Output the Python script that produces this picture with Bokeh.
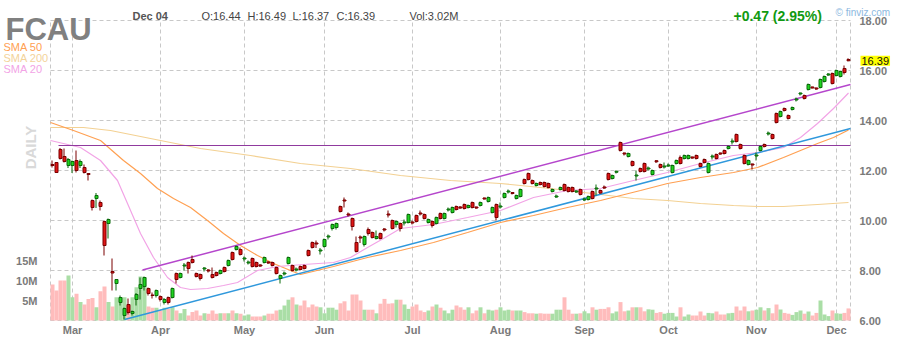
from math import pi
from bokeh.plotting import figure
from bokeh.models import Range1d, LinearAxis, FixedTicker, Label, ColumnDataSource
from bokeh.transform import dodge
from bokeh.embed import file_html
from bokeh.resources import INLINE

# ---------------- data ----------------
# trading-day index 0 = Feb 24 2020 ... 199 = Dec 04 2020
opens = [12.24,12.32,12.84,12.56,12.20, 12.20,12.40,12.20,12.12,11.88,10.80,10.88,10.72,9.96,9.88,7.96,7.48,6.72,6.20,6.64,6.28,6.84,7.28,7.36,7.28,7.02,7.00,
         6.96,6.72,6.92,6.92,7.88,7.72,8.18,8.32,8.44,7.88,7.84,8.06,8.02,7.84,7.92,7.88,8.12,8.20,8.72,8.84,8.84,
         8.46,8.30,8.48,8.32,8.22,8.32,8.34,8.32,8.12,7.68,7.86,8.28,8.20,8.02,8.16,8.20,8.80,9.12,9.10,8.78,
         8.96,9.34,9.68,9.72,10.56,10.82,10.26,10.08,9.12,9.34,9.04,9.64,9.52,9.28,9.48,9.66,10.26,10.00,9.84,9.88,9.90,9.92,
         9.94,10.20,10.30,10.24,9.92,9.96,9.88,10.28,10.08,10.42,10.32,10.56,10.54,10.64,10.52,10.72,10.54,10.60,10.90,10.76,10.32,10.64,
         10.54,10.92,11.14,11.12,10.88,10.96,11.64,11.88,11.60,11.40,11.52,11.52,11.48,11.16,10.94,11.24,11.44,11.32,11.32,11.14,11.24,
         10.82,10.84,11.16,11.26,11.20,11.34,11.88,11.68,11.93,13.12,12.70,12.56,12.36,11.78,12.08,12.28,12.06,11.84,12.39,12.24,12.14,
         12.18,11.92,12.28,12.52,12.48,12.48,12.54,12.60,12.28,12.44,11.92,12.54,12.64,12.70,12.80,12.88,13.14,13.44,13.04,12.60,12.24,12.26,
         12.58,12.80,13.04,13.46,13.44,14.28,14.16,14.48,14.20,14.44,14.82,15.06,15.00,15.24,15.34,15.30,15.32,15.56,15.82,15.88,
         15.80,15.76,16.08,16.44]
highs = [12.40,12.34,12.90,12.88,12.50, 12.40,12.80,12.44,12.24,11.90,10.84,11.10,10.80,10.00,10.08,8.48,7.66,7.00,6.52,6.88,6.40,7.10,7.72,7.76,7.32,7.12,7.24,
         7.00,6.90,6.96,7.32,7.92,7.92,8.30,8.36,8.60,7.92,7.88,8.14,8.06,8.12,7.96,8.04,8.16,8.44,8.76,9.00,8.92,
         8.56,8.40,8.52,8.36,8.26,8.56,8.38,8.36,8.16,7.84,7.96,8.56,8.24,8.12,8.20,8.24,8.84,9.16,9.20,8.90,
         9.28,9.44,9.88,9.92,10.60,10.92,10.32,10.12,9.36,9.40,9.40,9.72,9.56,9.60,9.52,9.70,10.40,10.04,10.00,9.92,10.04,10.28,
         10.00,10.24,10.40,10.28,10.08,10.00,10.16,10.32,10.32,10.52,10.56,10.60,10.58,10.68,10.64,10.76,10.56,10.76,10.92,10.96,10.56,10.68,
         10.72,11.12,11.24,11.14,11.04,11.28,11.68,11.92,11.64,11.52,11.56,11.56,11.52,11.28,11.04,11.36,11.48,11.36,11.36,11.22,11.28,
         10.92,11.00,11.20,11.44,11.24,11.40,11.92,11.84,12.00,13.16,12.72,12.72,12.40,12.00,12.12,12.32,12.16,12.04,12.42,12.28,12.32,
         12.28,12.24,12.44,12.60,12.64,12.64,12.56,12.64,12.32,12.48,12.32,12.64,12.68,12.72,12.84,13.00,13.28,13.48,13.08,12.64,12.44,12.28,
         12.72,13.00,13.08,13.56,13.48,14.32,14.40,14.52,14.24,14.56,14.92,15.12,15.04,15.48,15.36,15.32,15.68,15.80,15.90,15.92,
         16.04,16.00,16.20,16.49]
lows = [12.12,11.90,12.44,12.32,12.10, 11.90,11.92,12.10,11.88,11.60,10.40,10.50,10.40,8.60,9.28,7.20,7.20,6.60,6.04,6.24,6.20,6.60,6.84,7.20,7.00,6.88,6.92,
        6.76,6.64,6.64,6.88,7.48,7.68,8.00,7.88,8.28,7.72,7.60,7.96,7.92,7.68,7.76,7.84,7.92,8.16,8.40,8.80,8.60,
        8.36,8.24,8.12,8.12,8.14,8.28,8.26,8.16,7.84,7.48,7.80,8.24,7.96,7.96,8.00,8.04,8.56,8.88,8.90,8.64,
        8.92,9.24,9.60,9.64,10.32,10.52,10.16,9.60,8.72,9.10,8.96,9.40,9.28,9.24,9.24,9.56,10.12,9.64,9.72,9.56,9.80,9.88,
        9.84,9.92,10.20,10.04,9.88,9.72,9.84,10.04,10.04,10.36,10.28,10.40,10.46,10.44,10.48,10.48,10.46,10.56,10.84,10.72,10.28,10.00,
        10.48,10.88,11.08,11.04,10.84,10.92,11.44,11.60,11.44,11.36,11.40,11.32,11.28,11.12,10.90,11.20,11.16,11.12,11.12,11.10,11.00,
        10.78,10.80,10.84,11.00,11.06,11.26,11.60,11.64,11.88,12.76,12.60,12.52,12.16,11.60,11.92,11.92,12.00,11.80,12.30,12.08,12.08,
        12.14,11.88,12.24,12.24,12.44,12.44,12.46,12.44,12.12,12.28,11.88,12.44,12.44,12.62,12.64,12.84,13.04,13.12,12.84,12.24,12.20,12.04,
        12.40,12.76,12.92,13.40,13.24,13.88,14.12,14.36,14.04,14.40,14.76,15.00,14.84,15.20,15.28,15.22,15.28,15.52,15.78,15.44,
        15.76,15.72,15.84,16.37]
closes = [12.20,11.92,12.48,12.36,12.44, 12.36,12.00,12.36,11.92,11.84,10.52,11.00,10.56,9.00,10.04,7.90,7.64,6.92,6.48,6.32,6.36,7.04,7.44,7.72,7.08,7.00,7.20,
          6.84,6.84,6.72,7.28,7.64,7.88,8.22,8.08,8.32,7.76,7.68,8.10,7.98,7.72,7.80,8.00,7.96,8.40,8.44,8.96,8.64,
          8.50,8.34,8.16,8.16,8.18,8.52,8.30,8.20,7.88,7.80,7.90,8.52,8.00,8.06,8.04,8.08,8.60,8.92,9.06,8.82,
          9.24,9.38,9.84,9.88,10.36,10.78,10.22,9.76,8.76,9.30,9.36,9.48,9.32,9.36,9.28,9.62,10.22,9.68,9.96,9.68,9.94,10.24,
          9.90,9.96,10.26,10.08,10.04,9.80,10.12,10.08,10.28,10.46,10.52,10.44,10.50,10.48,10.60,10.52,10.50,10.72,10.86,10.92,10.52,10.12,
          10.58,11.08,11.18,11.08,11.00,11.24,11.48,11.64,11.48,11.48,11.44,11.36,11.32,11.24,10.98,11.32,11.20,11.16,11.16,11.18,11.04,
          10.86,10.96,10.88,11.30,11.10,11.30,11.64,11.80,11.97,12.80,12.66,12.68,12.20,11.82,11.96,11.96,12.10,12.00,12.35,12.12,12.18,
          12.22,12.20,12.40,12.28,12.60,12.60,12.50,12.48,12.16,12.32,12.28,12.58,12.48,12.66,12.68,12.96,13.18,13.16,12.88,12.28,12.40,12.22,
          12.62,12.96,12.96,13.50,13.28,13.92,14.36,14.40,14.08,14.52,14.86,15.10,14.88,15.44,15.30,15.26,15.64,15.76,15.86,15.48,
          16.00,15.96,15.92,16.39]
volumes_m = [9.0,7.5,10.0,10.0,11.25, 5.8,6.7,4.6,4.0,5.4,5.6,3.3,7.3,8.5,4.6,3.5,5.8,5.8,5.8,3.75,5.8,8.3,11.0,10.8,3.5,3.2,3.2,
             2.5,3.2,2.9,3.3,2.5,1.8,2.9,1.25,2.1,2.5,1.25,1.8,1.7,2.5,1.7,1.8,1.8,1.8,2.5,1.8,1.7,
             1.25,1.5,1.0,1.0,1.0,1.25,1.7,1.7,2.5,2.7,3.75,5.2,5.8,4.0,3.75,5.0,3.3,4.0,3.5,3.3,
             1.8,3.2,3.2,2.7,4.3,4.8,2.5,6.5,6.5,5.0,2.7,2.7,2.7,1.8,4.2,5.4,4.2,4.3,5.2,5.2,4.0,2.9,
             3.5,4.0,2.5,2.1,2.5,3.5,4.0,3.2,2.5,1.8,2.7,3.75,3.3,2.7,3.3,1.8,2.5,3.3,1.8,2.7,2.5,2.7,
             3.3,2.5,2.7,2.5,2.5,2.5,2.1,1.8,1.8,1.7,1.8,1.7,1.7,1.7,2.7,2.7,5.8,2.7,1.7,1.7,1.8,
             2.3,1.8,3.3,2.7,2.9,2.9,3.3,1.8,2.25,4.6,2.3,2.5,3.3,3.3,3.3,2.3,2.8,2.7,1.9,2.1,1.7,
             1.9,1.9,1.0,3.3,1.0,1.5,1.25,1.25,2.25,1.25,1.9,1.8,2.25,1.5,1.5,1.8,1.9,3.5,2.5,3.5,2.3,2.5,
             2.7,3.3,2.5,3.1,1.8,4.0,2.75,1.9,1.7,1.4,2.1,2.5,1.7,2.25,1.25,1.9,5.0,1.5,1.1,2.5,
             1.8,1.7,1.9,3.02]

# moving averages, read at sample points (index, price)
sma20_idx = [-0.5,7,12,16.25,18.75,22,25.25,28.75,32,34.5,38.75,42.75,46.25,51.25,56.25,62.75,70.25,74.5,78.75,82.75,87,95.25,103.75,112,120.25,128.75,137,145.25,153.75,162,170.25,176.25,182.75,187,191.25,195.25,199]
sma20_val = [13.2,12.92,12.4,11.6,10.68,9.48,8.52,7.72,7.32,7.24,7.28,7.4,7.52,8.0,8.16,8.24,8.32,8.52,8.92,9.28,9.68,9.84,10.12,10.4,10.92,11.2,11.28,11.6,11.92,12.28,12.6,12.72,12.92,13.32,13.88,14.48,15.1]
sma50_idx = [-0.5,5.25,12,17.75,22,26.25,30.25,34.5,38.75,42.75,47,51.25,55.25,59.5,62,70.25,78.75,87,95.25,103.75,112,120.25,128.75,137,147,153.75,162,170.25,176.25,182.75,191.25,195.25,199]
sma50_val = [13.92,13.6,13.2,12.4,11.88,11.28,10.88,10.52,10.0,9.48,9.0,8.6,8.28,8.0,7.84,8.16,8.52,8.8,9.12,9.52,9.92,10.2,10.52,10.8,11.2,11.48,11.72,11.92,12.12,12.52,13.08,13.32,13.62]
sma200_idx = [-0.5,7.75,14.5,27,37,49.5,62,74.5,87,99.5,112,124.5,137,145.25,153.75,162,170.25,176.25,182.75,191.25,199]
sma200_val = [13.72,13.72,13.6,13.2,12.88,12.6,12.28,12.08,11.8,11.6,11.48,11.28,11.04,10.88,10.8,10.68,10.6,10.56,10.56,10.64,10.72]

# drawn trend lines (start/end index, price)
upper_idx = [22.5, 199.5]
upper_val = [8.02, 15.44]
lower_idx = [18.0, 199.5]
lower_val = [6.04, 13.68]
hline_idx = [1.5, 199.5]
hline_val = [13.0, 13.0]

month_idx = [5, 27, 48, 68, 90, 112, 133, 154, 176, 196]
month_labels = ["Mar", "Apr", "May", "Jun", "Jul", "Aug", "Sep", "Oct", "Nov", "Dec"]
price_ticks = [6, 8, 10, 12, 14, 16, 18]
price_labels = ["6.00", "8.00", "10.00", "12.00", "14.00", "16.00", "18.00"]
vol_ticks = [5, 10, 15]
vol_labels = ["5M", "10M", "15M"]
last_price = 16.39

# ---------------- layout / styling ----------------
FONT = "Liberation Sans"
UP_FILL, UP_LINE = "#1fd41f", "#0a6a0a"
DN_FILL, DN_LINE = "#e01414", "#7a0000"
VOL_UP, VOL_DN = "#aadea6", "#ffbcbc"
GRID = "#c8c8c8"

W, H = 900, 340
FL, FR, FT, FB = 50, 850, 20, 320          # chart box in canvas pixels
IX0, IX1 = -0.5, 199.5                      # index span of the chart box
PY0, PY1 = 6.0, 18.0                        # price span of the chart box
VPX = 4.0                                   # volume: pixels per million
xs = (FR - FL) / (IX1 - IX0)
ys = (FB - FT) / (PY1 - PY0)
x_range = Range1d(IX0 - FL / xs, IX1 + (W - FR) / xs)
y_range = Range1d(PY0 - (H - FB) / ys, PY1 + FT / ys)

p = figure(width=W, height=H, output_backend="svg", toolbar_location=None, title=None,
           x_range=x_range, y_range=y_range, y_axis_location="right", min_border=0)
p.min_border_left = p.min_border_right = p.min_border_top = p.min_border_bottom = 0
p.extra_y_ranges = {"vol": Range1d(-(H - FB) / VPX, FB / VPX)}
p.background_fill_color = "white"
p.border_fill_color = "white"
p.outline_line_color = None
p.xgrid.visible = False
p.ygrid.visible = False


def px_to_data(xp, yp):
    return x_range.start + xp / xs, y_range.end - yp / ys


# axes drawn at the chart box edges
xa = p.xaxis[0]
xa.ticker = FixedTicker(ticks=month_idx)
xa.major_label_overrides = {m: lab for m, lab in zip(month_idx, month_labels)}
xa.fixed_location = PY0
ya = p.yaxis[0]
ya.ticker = FixedTicker(ticks=price_ticks)
ya.major_label_overrides = {t: lab for t, lab in zip(price_ticks, price_labels)}
ya.fixed_location = IX1
va = LinearAxis(y_range_name="vol", ticker=FixedTicker(ticks=vol_ticks),
                major_label_overrides={t: lab for t, lab in zip(vol_ticks, vol_labels)},
                fixed_location=IX0)
p.add_layout(va, "left")
for ax, so in ((xa, 3), (ya, 9), (va, 13)):
    ax.axis_line_color = None
    ax.major_tick_line_color = None
    ax.minor_tick_line_color = None
    ax.major_tick_out = 0
    ax.major_tick_in = 0
    ax.major_label_standoff = so
    ax.major_label_text_font = FONT
    ax.major_label_text_font_size = "11px"
    ax.major_label_text_font_style = "bold"
    ax.major_label_text_color = "#7a7a7a"

# dashed grid and box
gx = [m for m in month_idx]
p.segment(x0=gx, y0=[PY0] * len(gx), x1=gx, y1=[PY1] * len(gx),
          line_color=GRID, line_dash="4 3", line_width=1)
gy = [t for t in price_ticks]
p.segment(x0=[IX0] * len(gy), y0=gy, x1=[IX1] * len(gy), y1=gy,
          line_color=GRID, line_dash="4 3", line_width=1)
p.segment(x0=[IX0, IX1], y0=[PY0, PY0], x1=[IX0, IX1], y1=[PY1, PY1],
          line_color=GRID, line_dash="4 3", line_width=1)

# volume
n = len(closes)
idx = list(range(n))
up = [c >= o for o, c in zip(opens, closes)]
vsrc = ColumnDataSource(dict(x=idx, v=volumes_m, c=[VOL_UP if u else VOL_DN for u in up]))
p.vbar(x="x", top="v", bottom=0, width=1.0, fill_color="c", line_color=None, source=vsrc, y_range_name="vol")

# moving averages
p.line(sma200_idx, sma200_val, line_color="#f3d193", line_width=1.2)
p.line(sma50_idx, sma50_val, line_color="#ffa052", line_width=1.2)
p.line(sma20_idx, sma20_val, line_color="#f2a4e6", line_width=1.2)

# drawn lines
p.line(hline_idx, hline_val, line_color="#903a9e", line_width=1.2)
p.line(upper_idx, upper_val, line_color="#b546cc", line_width=1.5)
p.line(lower_idx, lower_val, line_color="#2f98dc", line_width=1.5)

# candles
csrc = ColumnDataSource(dict(
    x=idx, high=highs, low=lows,
    top=[max(o, c) for o, c in zip(opens, closes)],
    bottom=[min(o, c) for o, c in zip(opens, closes)],
    fill=[UP_FILL if u else DN_FILL for u in up],
    line=[UP_LINE if u else DN_LINE for u in up]))
wx = dodge("x", -0.125, range=p.x_range)
p.segment(x0=wx, y0="high", x1=wx, y1="low", line_color="line", line_width=1, source=csrc)
p.vbar(x="x", top="top", bottom="bottom", width=0.75, fill_color="fill", line_color="line",
       line_width=1, source=csrc)


def add_text(text, xp, yp, size, color, style="normal", align="left", baseline="alphabetic", angle=0, **kw):
    x, y = px_to_data(xp, yp)
    p.add_layout(Label(x=x, y=y, text=text, text_font=FONT, text_font_size=size,
                       text_color=color, text_font_style=style, text_align=align,
                       text_baseline=baseline, angle=angle, **kw))


add_text("FCAU", 5, 28.5, "31px", "#808080", "bold")
add_text("Dec 04", 132, 15, "11px", "#555555", "bold")
add_text("O:16.44", 201, 15, "11px", "#444444")
add_text("H:16.49", 247, 15, "11px", "#444444")
add_text("L:16.37", 292, 15, "11px", "#444444")
add_text("C:16.39", 336, 15, "11px", "#444444")
add_text("Vol:3.02M", 409, 15, "11px", "#444444")
add_text("+0.47 (2.95%)", 733, 15, "14px", "#119a11", "bold")
add_text("\u00a9 finviz.com", 835, 11.5, "10px", "#8cb8e0")
add_text("SMA 50", 3, 46, "11px", "#ffa052")
add_text("SMA 200", 3, 57, "11px", "#f3d39a")
add_text("SMA 20", 3, 68, "11px", "#f2a4e6")
add_text("DAILY", 30, 147, "15px", "#d9d9d9", "bold", align="center", baseline="middle", angle=pi / 2)

lx, _ = px_to_data(860, 0)
p.add_layout(Label(x=lx, y=last_price, text=f"{last_price:.2f}", text_font=FONT,
                   text_font_size="11px", text_color="#111111", text_baseline="middle",
                   background_fill_color="#ffff00", padding=1))

open("out.html", "w").write(file_html(p, INLINE))
